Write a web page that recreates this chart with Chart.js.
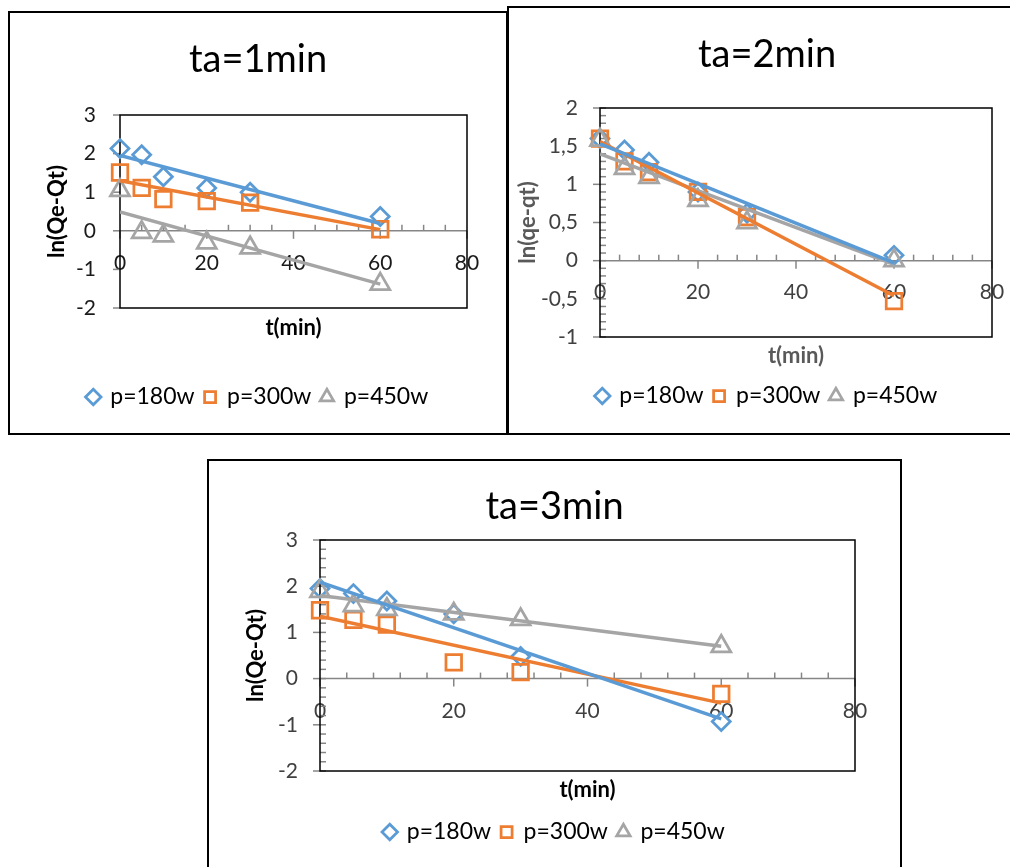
<!DOCTYPE html>
<html>
<head>
<meta charset="utf-8">
<script src="https://cdn.jsdelivr.net/npm/chart.js@4.4.0/dist/chart.umd.min.js"></script>
<style>
  html, body { margin: 0; padding: 0; background: #fff; width: 1010px; height: 867px; overflow: hidden; }
  .frame { position: absolute; border: 2px solid #000; box-sizing: border-box; background: #fff; }
  .frame canvas { display: block; }
</style>
</head>
<body>
<div class="frame" style="left:8px;top:11px;width:500px;height:424px;"><canvas id="c1" width="496" height="420"></canvas></div>
<div class="frame" style="left:507px;top:6px;width:520px;height:429px;"><canvas id="c2" width="516" height="425"></canvas></div>
<div class="frame" style="left:207px;top:459px;width:695px;height:420px;"><canvas id="c3" width="691" height="416"></canvas></div>
<script>
// sampling times (min) and trendline end points
const tMin = [0, 5, 10, 20, 30, 60];
const tFit = [0, 60];
const seriesNames = ["p=180w", "p=300w", "p=450w"];

// ta = 1 min
const ta1_p180 = [2.13, 1.97, 1.40, 1.11, 1.00, 0.37];
const ta1_p300 = [1.51, 1.11, 0.82, 0.77, 0.73, 0.04];
const ta1_p450 = [1.05, -0.04, -0.13, -0.31, -0.44, -1.38];
const ta1_fit180 = [1.95, 0.19];
const ta1_fit300 = [1.30, 0.03];
const ta1_fit450 = [0.49, -1.38];

// ta = 2 min
const ta2_p180 = [1.60, 1.45, 1.29, 0.90, 0.62, 0.07];
const ta2_p300 = [1.60, 1.30, 1.16, 0.90, 0.57, -0.53];
const ta2_p450 = [1.58, 1.21, 1.09, 0.79, 0.50, 0.00];
const ta2_fit180 = [1.53, -0.03];
const ta2_fit300 = [1.56, -0.46];
const ta2_fit450 = [1.40, -0.05];

// ta = 3 min
const ta3_p180 = [1.95, 1.84, 1.68, 1.40, 0.48, -0.93];
const ta3_p300 = [1.48, 1.27, 1.17, 0.35, 0.14, -0.33];
const ta3_p450 = [1.89, 1.58, 1.50, 1.40, 1.28, 0.70];
const ta3_fit180 = [2.09, -0.87];
const ta3_fit300 = [1.35, -0.53];
const ta3_fit450 = [1.80, 0.70];

const colors = ["#5B9BD5", "#ED7D31", "#A5A5A5"];
const markers = ["rectRot", "rect", "triangle"];
const markerSize = [9, 11, 11];
const FONT = "Lato, Carlito, Calibri, sans-serif";

// draws the plot frame, the zero axis and the tick marks
const excelAxes = {
  id: "excelAxes",
  beforeDatasetsDraw(chart, args, opts) {
    const { ctx, chartArea: a, scales } = chart;
    const x = scales.x, y = scales.y;
    const y0 = y.getPixelForValue(0);
    ctx.save();
    ctx.lineWidth = 1.5;
    // y axis: major ticks outside, minor ticks inside
    ctx.strokeStyle = "#868686";
    for (let v = y.min; v <= y.max + 1e-9; v += opts.yMajor) {
      const py = y.getPixelForValue(v);
      ctx.beginPath(); ctx.moveTo(a.left - 7, py); ctx.lineTo(a.left, py); ctx.stroke();
    }
    if (opts.yMinor) {
      for (let v = y.min; v <= y.max + 1e-9; v += opts.yMinor) {
        const py = y.getPixelForValue(v);
        ctx.beginPath(); ctx.moveTo(a.left, py); ctx.lineTo(a.left + 6, py); ctx.stroke();
      }
    }
    // horizontal axis through y = 0
    ctx.beginPath(); ctx.moveTo(a.left, y0); ctx.lineTo(a.right, y0); ctx.stroke();
    for (let v = x.min; v <= x.max + 1e-9; v += opts.xMinor) {
      const px = x.getPixelForValue(v);
      const r = v / opts.xMajor;
      ctx.beginPath();
      if (Math.abs(r - Math.round(r)) < 1e-6) { ctx.moveTo(px, y0); ctx.lineTo(px, y0 + 8); }
      else { ctx.moveTo(px, y0 - 6); ctx.lineTo(px, y0); }
      ctx.stroke();
    }
    ctx.strokeStyle = "#000";
    ctx.strokeRect(a.left, a.top, a.width, a.height);
    ctx.restore();
  }
};

function buildDatasets(values, fits) {
  const sets = [];
  values.forEach((ys, i) => {
    sets.push({
      label: seriesNames[i],
      data: tMin.map((t, k) => ({ x: t, y: ys[k] })),
      xAxisID: "x", yAxisID: "y",
      showLine: false,
      clip: false,
      pointStyle: markers[i],
      pointRadius: markerSize[i],
      pointHoverRadius: markerSize[i],
      pointBorderWidth: 2.75,
      borderColor: colors[i],
      backgroundColor: "rgba(0,0,0,0)",
      order: 4 - i
    });
  });
  fits.forEach((ys, i) => {
    sets.push({
      label: "fit " + seriesNames[i],
      data: tFit.map((t, k) => ({ x: t, y: ys[k] })),
      xAxisID: "x", yAxisID: "y",
      showLine: true,
      borderColor: colors[i],
      borderWidth: 3.5,
      pointRadius: 0,
      order: 0
    });
  });
  return sets;
}

function makeChart(id, s) {
  const titleLH = s.titleSize * 1.2;
  const axisLH = s.axisTitleSize * 1.2;
  const titlePadTop = s.titleY - titleLH / 2;
  const titlePadBottom = s.plot.t - titlePadTop - titleLH;
  const legendPad = 10;
  const layoutBottom = s.h - s.legendY - 10 - s.legendSize / 2;
  const legendTop = s.h - layoutBottom - (s.legendSize + legendPad + 10);
  const xAxisH = legendTop - s.plot.b;
  const xTitlePad = legendTop - s.xTitleY - axisLH / 2;
  const yTitlePad = s.yTitleX - axisLH / 2;

  const tickFont = { family: FONT, size: s.tickSize };
  const axisFont = { family: FONT, size: s.axisTitleSize, weight: "bold" };
  const noGrid = { display: false, drawTicks: false, tickLength: 0 };

  new Chart(document.getElementById(id), {
    type: "scatter",
    data: { datasets: buildDatasets(s.values, s.fits) },
    plugins: [excelAxes],
    options: {
      responsive: false,
      animation: false,
      layout: { padding: { left: 0, top: 0, right: 0, bottom: layoutBottom } },
      plugins: {
        title: {
          display: true, text: s.title, color: "#000",
          font: { family: FONT, size: s.titleSize, weight: "normal" },
          padding: { top: titlePadTop, bottom: titlePadBottom }
        },
        legend: {
          position: "bottom",
          labels: {
            usePointStyle: true, boxHeight: 11, boxWidth: 11, padding: legendPad,
            color: "#000", font: { family: FONT, size: s.legendSize },
            filter: (item) => item.datasetIndex < 3,
            sort: (a, b) => a.datasetIndex - b.datasetIndex
          }
        },
        tooltip: { enabled: false },
        excelAxes: { xMajor: 20, xMinor: s.xMinor, yMajor: s.yStep, yMinor: s.yMinor }
      },
      scales: {
        x: {
          type: "linear", position: "bottom", min: 0, max: 80,
          ticks: { display: false },
          grid: noGrid,
          border: { display: false },
          title: { display: true, text: "t(min)", color: s.axisColor, font: axisFont, padding: { top: 0, bottom: xTitlePad } },
          afterFit: (sc) => { sc.height = xAxisH; }
        },
        xz: {
          type: "linear", axis: "x", position: { y: 0 }, min: 0, max: 80,
          ticks: { stepSize: 20, padding: s.xLabelPad, color: s.tickColor, font: tickFont, maxRotation: 0 },
          grid: noGrid,
          border: { display: false }
        },
        y: {
          type: "linear", position: "left", min: s.yMin, max: s.yMax,
          ticks: {
            stepSize: s.yStep, padding: s.yLabelPad, color: s.tickColor, font: tickFont,
            callback: (v) => String(Math.round(v * 10) / 10).replace(".", ",")
          },
          grid: noGrid,
          border: { display: false },
          title: { display: true, text: s.yTitle, color: s.axisColor, font: axisFont, padding: { top: yTitlePad, bottom: 0 } },
          afterFit: (sc) => { sc.width = s.plot.l; }
        },
        // empty right-hand axis that only reserves the margin beside the plot
        yr: {
          type: "linear", axis: "y", position: "right", min: s.yMin, max: s.yMax,
          ticks: { display: false },
          grid: noGrid,
          border: { display: false },
          afterFit: (sc) => { sc.width = s.w - s.plot.r; }
        }
      }
    }
  });
}

makeChart("c1", {
  w: 496, h: 420, plot: { l: 110, t: 102, r: 457, b: 295 },
  title: "ta=1min", titleY: 47, xTitleY: 315, yTitleX: 47, legendY: 384,
  titleSize: 38, axisTitleSize: 22, tickSize: 21, legendSize: 23,
  tickColor: "#1a1a1a", axisColor: "#000",
  yTitle: "ln(Qe-Qt)", yMin: -2, yMax: 3, yStep: 1, yMinor: null, xMinor: 5,
  xLabelPad: 20, yLabelPad: 24,
  values: [ta1_p180, ta1_p300, ta1_p450], fits: [ta1_fit180, ta1_fit300, ta1_fit450]
});

makeChart("c2", {
  w: 516, h: 425, plot: { l: 91, t: 100, r: 483, b: 329 },
  title: "ta=2min", titleY: 47, xTitleY: 348, yTitleX: 19, legendY: 388,
  titleSize: 38, axisTitleSize: 22, tickSize: 21, legendSize: 23,
  tickColor: "#404040", axisColor: "#595959",
  yTitle: "ln(qe-qt)", yMin: -1, yMax: 2, yStep: 0.5, yMinor: 0.1, xMinor: 4,
  xLabelPad: 19, yLabelPad: 22,
  values: [ta2_p180, ta2_p300, ta2_p450], fits: [ta2_fit180, ta2_fit300, ta2_fit450]
});

makeChart("c3", {
  w: 691, h: 416, plot: { l: 111, t: 79, r: 646, b: 310 },
  title: "ta=3min", titleY: 46, xTitleY: 329, yTitleX: 47, legendY: 371,
  titleSize: 38, axisTitleSize: 22, tickSize: 21, legendSize: 23,
  tickColor: "#404040", axisColor: "#000",
  yTitle: "ln(Qe-Qt)", yMin: -2, yMax: 3, yStep: 1, yMinor: 0.2, xMinor: 4,
  xLabelPad: 20, yLabelPad: 22,
  values: [ta3_p180, ta3_p300, ta3_p450], fits: [ta3_fit180, ta3_fit300, ta3_fit450]
});
</script>
</body>
</html>
